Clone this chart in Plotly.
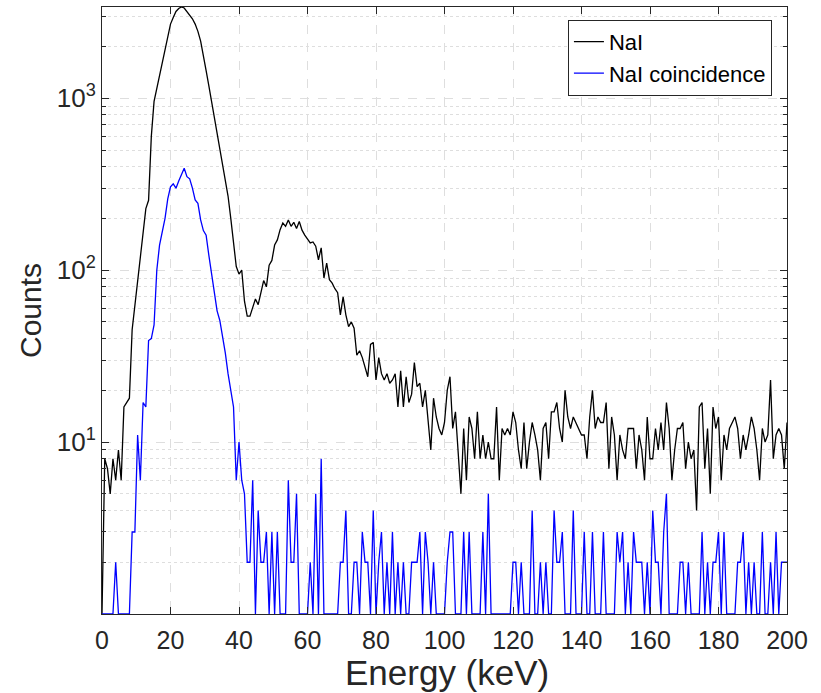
import numpy as np
import plotly.graph_objects as go

BIN_KEV = 0.8

nai_counts = [
    1, 8, 7, 5, 8, 6, 9, 6, 16, 17,
    18, 45, 62, 88, 115, 155, 228, 255, 600, 960,
    1150, 1340, 1600, 1950, 2280, 2700, 2950, 3200, 3330, 3400,
    3350, 3200, 3030, 2900, 2700, 2450, 2150, 1800, 1450, 1180,
    950, 780, 640, 520, 420, 335, 270, 200, 145, 105,
    95, 100, 66, 54, 54, 60, 68, 63, 75, 87,
    80, 107, 114, 140, 150, 172, 188, 180, 196, 180,
    190, 175, 192, 171, 160, 151, 144, 146, 138, 115,
    135, 90, 110, 88, 84, 78, 74, 55, 70, 55,
    47, 50, 46, 32, 34, 31, 27, 24, 37, 38,
    23, 31, 25, 23, 25, 22, 23, 25, 16, 26,
    16, 24, 17, 19, 29, 21, 22, 16, 20, 13,
    9, 18, 14, 12, 11, 13, 20, 24, 12, 15,
    9, 5, 12, 6, 14, 12, 8, 15, 8, 11,
    8, 10, 8, 8, 16, 6, 12, 11, 12, 11,
    15, 13, 9, 7, 13, 7, 10, 13, 11, 9,
    6, 12, 13, 8, 15, 15, 17, 12, 10, 20,
    14, 12, 14, 13, 12, 11, 11, 8, 14, 20,
    12, 14, 13, 13, 17, 7, 14, 11, 6, 11,
    9, 8, 12, 12, 12, 7, 11, 9, 6, 14,
    8, 8, 12, 9, 13, 9, 17, 12, 6, 9,
    12, 12, 13, 7, 10, 8, 9, 4, 16, 17,
    7, 12, 5, 16, 12, 14, 6, 11, 9, 12,
    13, 14, 12, 8, 11, 9, 11, 14, 12, 9,
    6, 12, 10, 11, 23, 8, 11, 12, 11, 7,
    13,
]

coinc_counts = [
    1, 1, 1, 1, 1, 2, 1, 1, 1, 1,
    1, 3, 3, 11, 6, 17, 16, 39, 40, 48,
    100, 140, 168, 200, 260, 305, 318, 300, 330, 360,
    392, 350, 340, 300, 256, 245, 196, 170, 160, 122,
    95, 72, 58, 51, 42, 33, 25, 20, 16, 6,
    10, 6, 5, 2, 2, 6, 1, 4, 2, 2,
    3, 1, 3, 1, 3, 1, 1, 1, 6, 2,
    2, 5, 1, 1, 1, 1, 2, 1, 5, 1,
    8, 1, 1, 1, 1, 1, 1, 2, 2, 4,
    1, 1, 2, 2, 1, 3, 2, 2, 1, 4,
    1, 2, 3, 1, 2, 1, 3, 1, 2, 1,
    2, 1, 1, 2, 2, 2, 3, 1, 3, 2,
    1, 2, 1, 1, 1, 1, 2, 3, 3, 1,
    1, 1, 3, 1, 3, 1, 1, 1, 1, 3,
    1, 5, 1, 1, 1, 1, 1, 1, 1, 1,
    2, 2, 1, 2, 1, 1, 1, 4, 1, 1,
    2, 1, 2, 1, 1, 4, 2, 2, 3, 1,
    1, 1, 4, 1, 1, 1, 3, 1, 1, 3,
    1, 1, 1, 3, 1, 1, 1, 1, 3, 2,
    3, 1, 2, 1, 3, 2, 2, 2, 1, 2,
    1, 4, 2, 2, 1, 3, 5, 1, 1, 1,
    1, 2, 2, 1, 2, 1, 1, 1, 1, 3,
    1, 2, 1, 2, 2, 3, 1, 3, 1, 1,
    1, 1, 2, 2, 3, 1, 2, 1, 2, 1,
    1, 3, 1, 1, 2, 1, 3, 1, 2, 2,
    2,
]

energy = np.arange(len(nai_counts)) * BIN_KEV

x_ticks = [0, 20, 40, 60, 80, 100, 120, 140, 160, 180, 200]
y_ticks = [10, 100, 1000]
y_tick_text = ["10<sup>1</sup>", "10<sup>2</sup>", "10<sup>3</sup>"]
y_minor = [m * d for d in (1, 10, 100, 1000) for m in range(2, 10)]

FONT = "Liberation Sans, Arial, sans-serif"
AX = "#262626"
GRID = "#dedede"

fig = go.Figure()
fig.add_trace(go.Scatter(x=energy, y=nai_counts, mode="lines", name="NaI",
                         line=dict(color="black", width=1.3)))
fig.add_trace(go.Scatter(x=energy, y=coinc_counts, mode="lines", name="NaI coincidence",
                         line=dict(color="#0000ff", width=1.3)))

fig.update_layout(
    width=821, height=693,
    margin=dict(l=102, r=34, t=7, b=79),
    paper_bgcolor="white", plot_bgcolor="white",
    font=dict(family=FONT, color=AX, size=22),
    showlegend=True,
    legend=dict(x=0.978, y=0.979, xanchor="right", yanchor="top",
                bgcolor="white", bordercolor=AX, borderwidth=1,
                font=dict(size=22, color="black"), itemwidth=30,
                tracegroupgap=0),
    annotations=[dict(text="Energy (keV)", xref="paper", yref="paper",
                      x=0.503, y=-0.096, xanchor="center", yanchor="middle",
                      showarrow=False, font=dict(size=35, color=AX))],
)

fig.update_xaxes(
    range=[0, 200], tickvals=x_ticks, automargin=False,
    showline=True, linecolor=AX, linewidth=1, mirror="allticks",
    ticks="inside", ticklen=7, tickcolor=AX, ticklabelstandoff=4,
    showgrid=True, gridcolor=GRID, griddash="dash", gridwidth=1,
    zeroline=False,
    tickfont=dict(size=25, color=AX),
)
fig.update_yaxes(
    type="log", range=[0, np.log10(3396)], automargin=False,
    tickvals=y_ticks, ticktext=y_tick_text,
    showline=True, linecolor=AX, linewidth=1, mirror="allticks",
    ticks="inside", ticklen=7, tickcolor=AX,
    showgrid=True, gridcolor=GRID, griddash="dash", gridwidth=1,
    zeroline=False,
    tickfont=dict(size=26, color=AX),
    minor=dict(tickvals=y_minor, ticks="inside", ticklen=4, tickcolor=AX,
               showgrid=True, gridcolor=GRID, griddash="dot", gridwidth=1),
    title=dict(text="Counts", font=dict(size=30, color=AX), standoff=6),
)

fig.write_html("out.html", config={"displayModeBar": False},
               post_script="document.body.style.margin='0px';")
